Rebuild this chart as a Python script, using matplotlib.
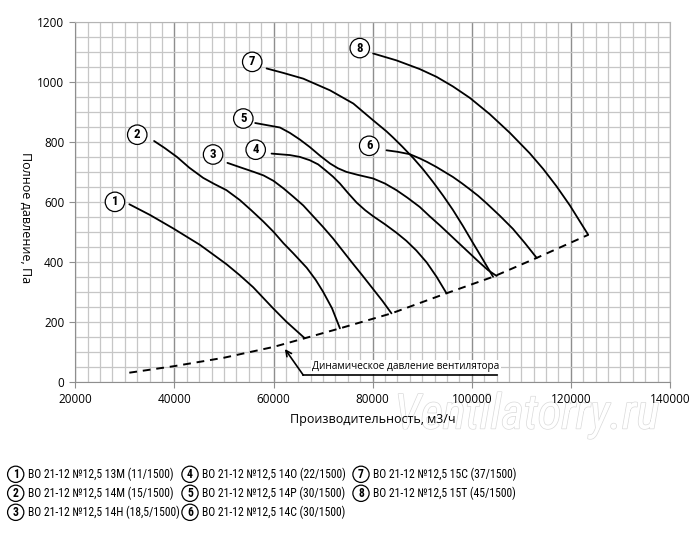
import matplotlib
matplotlib.use("Agg")
import matplotlib.pyplot as plt
import matplotlib.patheffects as pe
from matplotlib import font_manager as fm
from matplotlib.ticker import MultipleLocator

# fan curves: flow (m3/h) and total pressure (Pa)
q1 = [30900, 35100, 39800, 45200, 50500, 53200, 55900, 59900, 62600, 66300]
p1 = [592, 556, 511, 456, 392, 355, 315, 245, 200, 145]
q2 = [35900, 38000, 40500, 43000, 45800, 48000, 50500, 53200, 55500, 57900, 60000,
      62000, 64000, 66700, 68500, 70000, 71800, 73400]
p2 = [803, 780, 750, 714, 680, 660, 639, 606, 572, 535, 500,
      462, 428, 380, 340, 300, 245, 178]
q3 = [50700, 53500, 56000, 58000, 60000, 62000, 64000, 66000, 68000, 70000, 72000,
      74000, 76000, 78000, 80000, 82000, 83800]
p3 = [730, 714, 700, 688, 670, 645, 617, 588, 552, 516, 478,
      436, 394, 353, 311, 269, 228]
q4 = [59600, 63300, 65300, 67300, 69000, 70500, 72000, 73400, 75000, 76800, 78500,
      80100, 82500, 84800, 86800, 88800, 90900, 92900, 94900]
p4 = [761, 756, 750, 739, 725, 705, 684, 661, 630, 597, 572,
      552, 525, 497, 470, 438, 398, 350, 295]
q5 = [56300, 61300, 63300, 65300, 67300, 69300, 71400, 73000, 74700, 77000, 80100,
      82500, 84800, 87000, 89500, 91500, 93600, 95600, 97600, 99600, 101600, 103300, 105000]
p5 = [863, 848, 830, 808, 783, 755, 728, 712, 700, 690, 678,
      661, 639, 614, 583, 552, 521, 490, 459, 428, 397, 372, 353]
q6 = [82800, 85000, 87500, 89500, 91000, 92900, 94500, 96200, 98000, 99600, 101300,
      103000, 105700, 108300, 110700, 113100]
p6 = [772, 767, 759, 745, 733, 716, 700, 683, 662, 642, 620,
      595, 553, 510, 463, 413]
q7 = [58600, 62000, 66000, 71400, 76100, 80100, 82800, 84100, 86000, 88200, 90200,
      92200, 94200, 96200, 98200, 100200, 102300, 104300]
p7 = [1045, 1030, 1011, 972, 928, 872, 835, 815, 784, 746, 708,
      666, 621, 573, 520, 464, 406, 350]
q8 = [80100, 84800, 89500, 92900, 96200, 99600, 103600, 107700, 111700, 114400,
      117100, 119800, 121800, 123500]
p8 = [1095, 1072, 1043, 1017, 985, 947, 893, 830, 762, 710, 652, 588, 535, 490]

# dynamic pressure of the fan (dashed)
q_dyn = [30900, 40000, 50000, 60000, 66300, 73400, 83800, 94900, 104300, 113100, 123500]
p_dyn = [30, 52, 80, 116, 145, 178, 228, 295, 350, 413, 490]

curves = [(q1, p1), (q2, p2), (q3, p3), (q4, p4), (q5, p5), (q6, p6), (q7, p7), (q8, p8)]

# circled numbers on the chart
num_q = [28000, 32500, 47800, 56400, 53900, 79300, 55700, 77400]
num_p = [600, 824, 758, 774, 878, 787, 1067, 1113]

legend_labels = [
    "ВО 21-12 №12,5 13М (11/1500)",
    "ВО 21-12 №12,5 14М (15/1500)",
    "ВО 21-12 №12,5 14Н (18,5/1500)",
    "ВО 21-12 №12,5 14О (22/1500)",
    "ВО 21-12 №12,5 14Р (30/1500)",
    "ВО 21-12 №12,5 14С (30/1500)",
    "ВО 21-12 №12,5 15С (37/1500)",
    "ВО 21-12 №12,5 15Т (45/1500)",
]

W, H = 700, 546
plain = ["Open Sans", "DejaVu Sans"]

# pick a narrow face if one is around, the legend font in the picture is condensed
have = [(f.name, f.stretch) for f in fm.fontManager.ttflist]
names = {n for n, _ in have}
narrow, stretch = ["Roboto", "DejaVu Sans"], "normal"
for cand in ["Roboto Condensed", "Liberation Sans Narrow", "Open Sans Condensed",
             "Noto Sans Condensed", "DejaVu Sans Condensed"]:
    if cand in names:
        narrow = [cand, "DejaVu Sans"]
        break
else:
    for n, st in have:
        if n in ("Noto Sans", "DejaVu Sans", "Open Sans") and "condensed" in str(st):
            narrow, stretch = [n, "DejaVu Sans"], "condensed"
            break


def fx(px):
    return px / W


def fy(py):
    return 1 - py / H


fig = plt.figure(figsize=(W / 100, H / 100), dpi=100)
renderer = fig.canvas.get_renderer()


def fit_size(s, target, **kw):
    t = fig.text(0, 0, s, fontsize=10, **kw)
    w = t.get_window_extent(renderer).width
    t.remove()
    return 10 * target / w


ax = fig.add_axes([fx(75.3), fy(381.7), (670 - 75.3) / W, (381.7 - 22) / H])

ax.set_xlim(20000, 140000)
ax.set_ylim(0, 1200)
ax.xaxis.set_major_locator(MultipleLocator(20000))
ax.xaxis.set_minor_locator(MultipleLocator(2500))
ax.yaxis.set_major_locator(MultipleLocator(200))
ax.yaxis.set_minor_locator(MultipleLocator(50))
ax.set_axisbelow(True)
ax.grid(which="minor", color="#c6c6c6", lw=0.9)
ax.grid(which="major", axis="y", color="#c6c6c6", lw=0.9)
ax.grid(which="major", axis="x", color="#8e8e8e", lw=1.0)
for s in ["left", "bottom"]:
    ax.spines[s].set_color("#8e8e8e")
for s in ["top", "right"]:
    ax.spines[s].set_color("#b4b4b4")
ax.tick_params(which="minor", length=0)
ax.tick_params(which="major", length=4, color="#8e8e8e", labelsize=8.5, pad=4)
for lab in ax.get_xticklabels() + ax.get_yticklabels():
    lab.set_family(plain)

for q, p in curves:
    ax.plot(q, p, color="black", lw=1.3, solid_joinstyle="round", solid_capstyle="round")
ax.plot(q_dyn, p_dyn, color="black", lw=1.4, dashes=(4, 3))

num_size = fit_size("8", 6.5, family=narrow, fontweight="bold", fontstretch=stretch)
num_size = min(num_size, 9.5)
for i in range(8):
    ax.text(num_q[i], num_p[i], str(i + 1), ha="center", va="center",
            fontsize=num_size, fontweight="bold", family=narrow, fontstretch=stretch,
            bbox=dict(boxstyle="circle,pad=0.25", fc="white", ec="black", lw=0.9))

# note about the dashed line
ax.annotate("", xy=(62300, 109), xytext=(66000, 22),
            arrowprops=dict(arrowstyle="->", lw=1.2, color="black",
                            shrinkA=0, shrinkB=0))
ax.plot([66000, 105000], [22, 22], color="black", lw=1.2)
ax.text(86700, 50, "Динамическое давление вентилятора", ha="center", va="center",
        fontsize=7.2, family=plain,
        bbox=dict(boxstyle="square,pad=0.15", fc="white", ec="none"))

fig.text(fx(373), fy(419), "Производительность, м3/ч", ha="center", va="center",
         fontsize=9, family=plain)
fig.text(fx(26), fy(218), "Полное давление, Па", ha="center", va="center",
         rotation=270, fontsize=9, family=plain)

# watermark, kept under the axes and the labels
wm = "Ventilatorry.ru"
wm_size = fit_size(wm, 265, family=narrow, style="italic", fontstretch=stretch)
fig.text(fx(527), fy(415), wm, ha="center", va="center",
         fontsize=wm_size, style="italic", family=narrow, fontstretch=stretch,
         color="white", zorder=-1,
         path_effects=[pe.withStroke(linewidth=1.0, foreground="#dadada")])

# legend below the chart
leg_size = fit_size(legend_labels[0], 145, family=narrow, fontstretch=stretch)
col_circle = [15.7, 190, 361]
col_text = [28.3, 201.7, 373.3]
row_y = [474.3, 493.3, 512.3]
for i, lab in enumerate(legend_labels):
    c, r = divmod(i, 3)
    fig.text(fx(col_circle[c]), fy(row_y[r]), str(i + 1), ha="center", va="center",
             fontsize=min(leg_size, 8.5), fontweight="bold", family=narrow,
             fontstretch=stretch,
             bbox=dict(boxstyle="circle,pad=0.14", fc="white", ec="black", lw=0.9))
    fig.text(fx(col_text[c]), fy(row_y[r]), lab, ha="left", va="center",
             fontsize=leg_size, family=narrow, fontstretch=stretch)

fig.savefig("out.png", dpi=100)
